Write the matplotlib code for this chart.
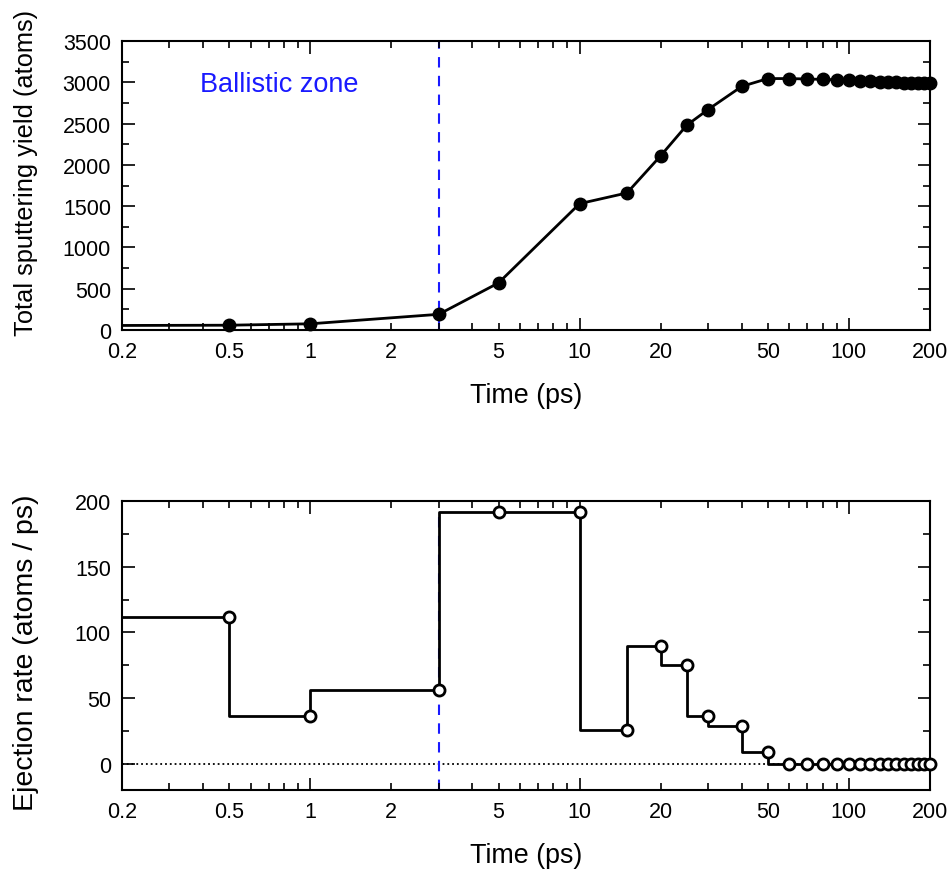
import matplotlib.pyplot as plt
from matplotlib.ticker import LogLocator, FixedLocator, MultipleLocator, NullFormatter

plt.rcParams['font.family'] = ['Liberation Sans', 'DejaVu Sans']

# total sputtering yield (top)
t_yield = [0.2, 0.5, 1, 3, 5, 10, 15, 20, 25, 30, 40, 50, 60, 70, 80, 90, 100,
           110, 120, 130, 140, 150, 160, 170, 180, 190, 200]
yield_atoms = [55, 58, 75, 190, 570, 1530, 1660, 2110, 2480, 2670, 2950, 3045, 3045,
               3040, 3035, 3030, 3025, 3020, 3010, 3005, 3000, 3000, 2995, 2995,
               2990, 2990, 2990]

# ejection rate (bottom), value over the interval ending at each time
t_rate = t_yield
rate = [112, 112, 36, 56, 192, 192, 26, 90, 75, 36, 29, 9, 0, 0, 0, 0, 0,
        0, 0, 0, 0, 0, 0, 0, 0, 0, 0]

t_ballistic = 3
xtick_vals = [0.2, 0.5, 1, 2, 5, 10, 20, 50, 100, 200]
xtick_labels = ['0.2', '0.5', '1', '2', '5', '10', '20', '50', '100', '200']

fig = plt.figure(figsize=(9.48, 8.7), dpi=100)
ax1 = fig.add_axes([122/948, 1-331/870, 808/948, 289/870])
ax2 = fig.add_axes([122/948, 1-791/870, 808/948, 289/870])

for ax in (ax1, ax2):
    ax.set_xscale('log')
    ax.set_xlim(0.2, 200)
    ax.xaxis.set_major_locator(FixedLocator([1, 10, 100]))
    ax.xaxis.set_minor_locator(LogLocator(base=10, subs=range(2, 10)))
    ax.xaxis.set_major_formatter(NullFormatter())
    ax.xaxis.set_minor_formatter(NullFormatter())
    for v, l in zip(xtick_vals, xtick_labels):
        ax.annotate(l, xy=(v, 0), xycoords=('data', 'axes fraction'),
                    xytext=(0, -8), textcoords='offset points',
                    ha='center', va='top', fontsize=15.5)
    ax.tick_params(which='both', direction='in', top=True, right=True, width=1.2)
    ax.tick_params(which='major', length=9, labelsize=15.5, pad=8)
    ax.tick_params(which='minor', length=5)
    for s in ax.spines.values():
        s.set_linewidth(1.5)
    ax.set_xlabel('Time (ps)', fontsize=19.4)
    ax.xaxis.set_label_coords(0.5, -52/289, transform=ax.transAxes)
    ax.xaxis.label.set_va('top')

# top panel
ax1.set_ylim(0, 3500)
ax1.yaxis.set_major_locator(MultipleLocator(500))
ax1.yaxis.set_minor_locator(MultipleLocator(250))
ax1.axvline(t_ballistic, color='#1a1aff', ls=(0, (5, 4)), lw=1.5, zorder=1)
ax1.plot(t_yield, yield_atoms, '-', color='black', lw=2, zorder=2)
ax1.plot(t_yield[1:], yield_atoms[1:], 'o', color='black', ms=9, zorder=3, clip_on=False)
ax1.text(0.39, 2975, 'Ballistic zone', color='#1a1aff', fontsize=19.5, va='center', ha='left')
ax1.set_ylabel('Total sputtering yield (atoms)', fontsize=18.3)
ax1.yaxis.set_label_coords(-84/808, 0.547, transform=ax1.transAxes)

# bottom panel
ax2.set_ylim(-20, 200)
ax2.yaxis.set_major_locator(MultipleLocator(50))
ax2.yaxis.set_minor_locator(MultipleLocator(25))
ax2.axhline(0, color='black', ls=':', lw=1.3, zorder=1)
ax2.vlines(t_ballistic, -20, rate[t_rate.index(t_ballistic) + 1], color='#1a1aff',
           ls=(0, (5, 4)), lw=1.5, zorder=1)
ax2.step(t_rate, rate, where='pre', color='black', lw=2, zorder=2)
ax2.plot(t_rate[1:], rate[1:], 'o', mfc='white', mec='black', mew=2, ms=8,
         zorder=3, clip_on=False)
ax2.set_ylabel('Ejection rate (atoms / ps)', fontsize=20.5)
ax2.yaxis.set_label_coords(-83/808, 0.4775, transform=ax2.transAxes)

fig.savefig('out.png', dpi=100)
